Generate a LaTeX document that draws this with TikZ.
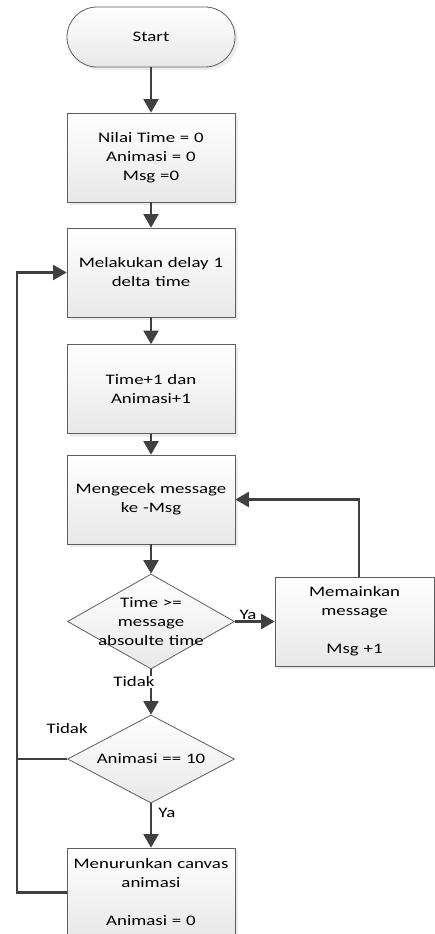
\documentclass[tikz,border=0pt]{standalone}
\usepackage{fontspec}
\setmainfont{Carlito}[FakeStretch=1.3]
\usepackage{tikz}
\usetikzlibrary{shapes,arrows,shadows}
\definecolor{linegray}{HTML}{404040}
\definecolor{framegray}{HTML}{5E5E5E}
\tikzstyle{block} = [rectangle, draw=framegray, line width=0.8pt, top color=white, bottom color=black!9,
text width=158pt, text centered, minimum width=168pt, minimum height=89pt, inner sep=2pt,
drop shadow={shadow xshift=3pt, shadow yshift=-3pt, opacity=0.15}]
\tikzstyle{terminal} = [block, rounded corners=30pt, minimum height=60pt]
\tikzstyle{decision} = [diamond, draw=framegray, line width=0.8pt, top color=white, bottom color=black!9,
inner sep=0pt, minimum width=167pt, minimum height=95pt]
\tikzstyle{decisiontext} = [text width=120pt, text centered]
\tikzstyle{lbl} = [inner sep=1pt]
\tikzstyle{conn} = [draw=linegray, line width=2.8pt]
\tikzstyle{line} = [conn, -triangle 60]

\begin{document}
\begin{tikzpicture}[x=1pt, y=1pt, font=\fontsize{14.5}{19}\selectfont]
	\useasboundingbox (0,0) rectangle (435,-934);
	\node [terminal] (start) at (151,-37) {Start};
	\node [block, below of=start, node distance=120.5pt] (init) {Nilai Time = 0\\Animasi = 0\\Msg =0};
	\node [block, below of=init, node distance=115pt] (delay) {Melakukan delay 1\\delta time};
	\node [block, below of=delay, node distance=116.5pt] (incr) {Time+1 dan\\Animasi+1};
	\node [block, below of=incr, node distance=110.5pt] (cek) {Mengecek message\\ke -Msg};
	\node [decision, below of=cek, node distance=122pt] (cond1) {};
	\node [decisiontext] (cond1txt) at (cond1) {Time >=\\message\\absoulte time};
	\node [block, minimum width=159pt, text width=150pt] (play) at (354.5,-621.5) {Memainkan\\message\\~\\Msg +1};
	\node [decision, below of=cond1, node distance=137.5pt, minimum height=88pt] (cond2) {};
	\node [decisiontext] (cond2txt) at (cond2) {Animasi == 10};
	\node [block, below of=cond2, node distance=133.5pt] (reset) {Menurunkan canvas\\animasi\\~\\Animasi = 0};
	\coordinate [left of=reset, node distance=134pt] (loop);
	
	\path [line] (start) -- (init);
	\path [line] (init) -- (delay);
	\path [line] (delay) -- (incr);
	\path [line] (incr) -- (cek);
	\path [line] (cek) -- (cond1);
	\path [line] (cond1) -- node [lbl, above, pos=0.33] (ya1) {Ya} (play);
	\path [line] ([xshift=4.5pt]play.north) |- (cek.east);
	\path [line] (cond1) -- (cond2);
	\node [lbl, fill=white] (tidak1) at (134,-682) {Tidak};
	\path [line] (cond2) -- node [lbl, right, pos=0.22, xshift=5pt] (ya2) {Ya} (reset);
	\path [conn] (cond2.west) -- (cond2.west -| loop);
	\node [lbl] (tidak2) at ([yshift=30pt]cond2.west) {Tidak};
	\path [line] (reset.west) -- (loop) |- (delay.west);
	
\end{tikzpicture}
\end{document}
